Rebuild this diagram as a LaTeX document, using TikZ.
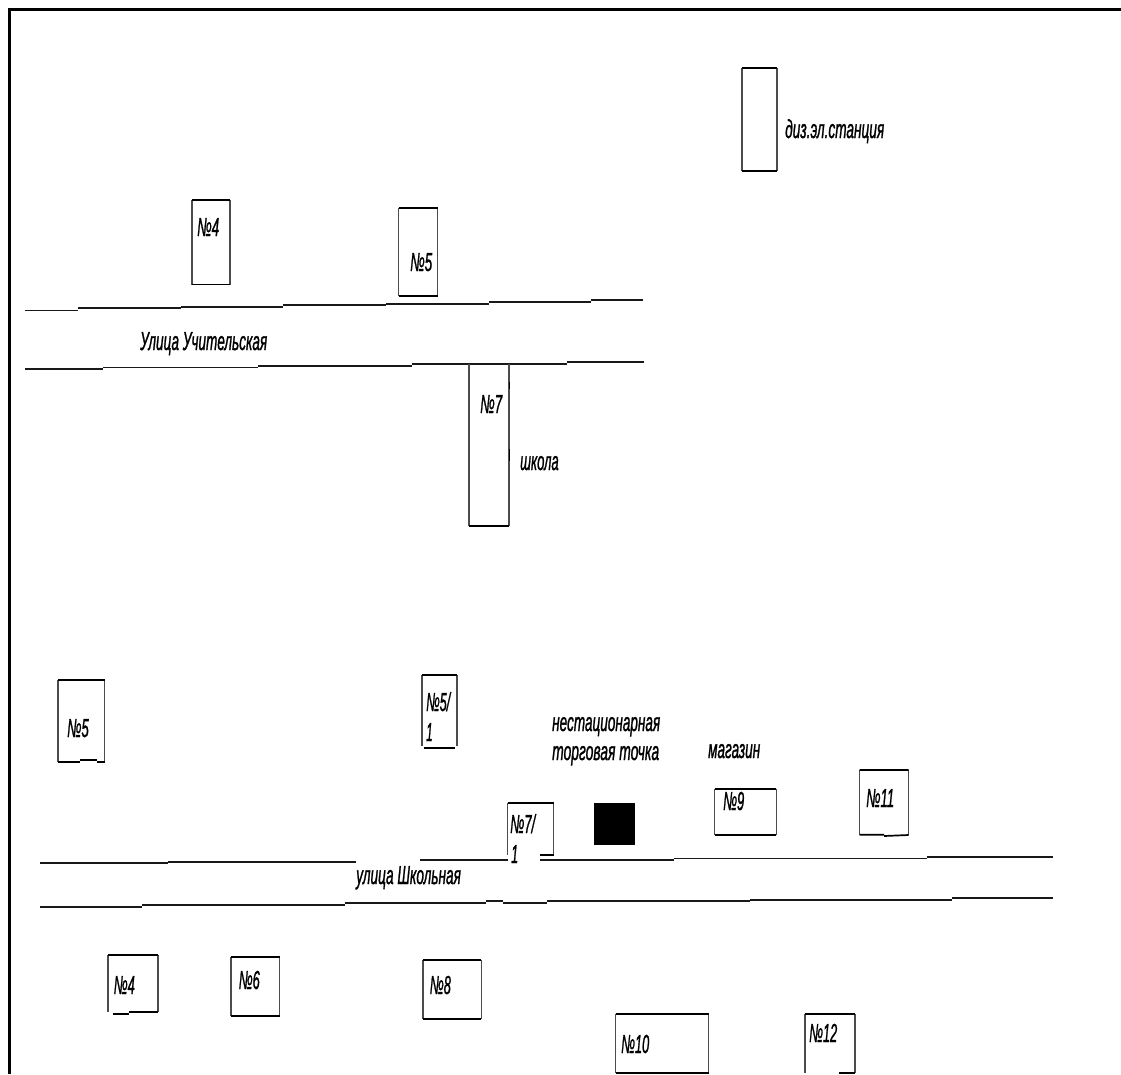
\documentclass[tikz,border=0pt]{standalone}
\usepackage{graphicx}
\usepackage{fontspec}
\setmainfont[ItalicFeatures={FakeBold=1.6}]{Liberation Sans}
\tikzset{
  hline/.style={draw=black,line width=1.7pt},
  vline/.style={draw=black!70,line width=1.1pt},
  frameline/.style={draw=black,line width=3pt},
  roadline/.style={draw=black!90,line width=1.6pt},
  lbl/.style={anchor=base west,inner sep=0pt,yshift=-1pt,font=\fontsize{26}{26}\selectfont\itshape,text=black}
}
% x1 y1 x2 y2
\newcommand{\bldg}[4]{%
  \draw[vline] (#1,#2) -- (#1,#4) (#3,#2) -- (#3,#4);
  \draw[hline] (#1,#2) -- (#3,#2) (#1,#4) -- (#3,#4);}
% name, left x, right x, baseline y, text
\newcommand{\lab}[5]{\node[lbl] (#1) at (#2,#4) {\resizebox{\dimexpr#3pt-#2pt\relax}{\height}{#5}};}
\begin{document}
\begin{tikzpicture}[x=1pt,y=-1pt]
\useasboundingbox (0,0) rectangle (1121,1074);
\fill[white] (0,0) rectangle (1121,1074);
% frame
\draw[frameline] (9,1074) -- (9,9.5) -- (1121,9.5);

% top street
\draw[roadline] (25,310.6) -- (78,310.6) (78,308.2) -- (181,308.2) (181,307) -- (283,307)
  (283,305) -- (386,305) (386,304) -- (489,304) (489,302) -- (591,302) (591,300) -- (643,300);
\draw[roadline] (25,369) -- (103,369) (103,367.4) -- (258,367.4) (258,366) -- (412,366)
  (412,364) -- (567,364) (567,362) -- (644,362);

% bottom street
\draw[roadline] (40,863) -- (168,863) (168,861.7) -- (356,861.7);
\draw[roadline] (420,860) -- (507.5,860);
\draw[roadline] (540,860) -- (673.5,860) (673.5,858.3) -- (926.5,858.3) (926.5,856.7) -- (1053,856.7);
\draw[roadline] (40,906.7) -- (142,906.7) (142,905) -- (344.6,905) (344.6,903) -- (486,903)
  (486,901) -- (503,901) (503,903) -- (547,903) (547,901) -- (749.5,901)
  (749.5,900) -- (951.5,900) (951.5,898) -- (1053,898);

% upper buildings
\bldg{742}{68}{777}{171}
\bldg{192}{200}{230}{284.5}
\bldg{398.6}{208}{437.7}{296}
% school, open at the street
\draw[vline] (469,364) -- (469,526) (509,364) -- (509,526);
\draw[hline] (469,526) -- (509,526);
\draw[draw=black,line width=1.5pt] (509.3,382) -- (509.3,389) (509.3,449) -- (509.3,461);

% lower buildings
\draw[vline] (58,680) -- (58,761.7) (104.6,680) -- (104.6,761.7);
\draw[hline] (58,680) -- (104.6,680) (58,761.7) -- (80,761.7) (80,760) -- (97,760) (97,761.7) -- (104.6,761.7);
\draw[vline] (422,675) -- (422,746) (457,675) -- (457,746);
\draw[hline] (422,675) -- (457,675) (424,747.7) -- (455,747.7);
\draw[vline] (507.5,803) -- (507.5,855) (553.6,803) -- (553.6,855);
\draw[hline] (507.5,803) -- (553.6,803) (540,855) -- (553.6,855);
\fill[black] (594,802.7) rectangle (634.6,845);
\bldg{714.6}{789}{776.4}{834.7}
\draw[vline] (859.6,770) -- (859.6,834.7) (908.7,770) -- (908.7,834.7);
\draw[hline] (859.6,770) -- (908.7,770) (859.6,834.7) -- (884,834.7) (884,836) -- (908.7,835);
\draw[vline] (108,955) -- (108,1012) (158,955) -- (158,1012);
\draw[hline] (108,955) -- (158,955) (113,1014) -- (129,1014) (129,1012) -- (158,1012);
\bldg{231}{956.7}{279.6}{1016}
\bldg{423}{960}{481.4}{1019}
\bldg{615.6}{1013.7}{708.7}{1073}
\draw[vline] (805,1013.7) -- (805,1073) (855,1013.7) -- (855,1073);
\draw[hline] (805,1013.7) -- (855,1013.7) (839,1073) -- (855,1073);

% labels
\lab{tDiz}{785}{884}{137}{диз.эл.станция}
\lab{tFour}{197}{219}{235}{№4}
\lab{tFive}{410}{432}{270}{№5}
\lab{tStreetA}{140}{267}{349}{Улица Учительская}
\lab{tSeven}{480}{502}{412}{№7}
\lab{tSchool}{520}{558.5}{469}{школа}
\lab{tFiveB}{67}{88.6}{736}{№5}
\lab{tFiveOneA}{426}{450}{710}{№5/}
\lab{tFiveOneB}{426}{432.5}{740}{1}
\lab{tSevenOneA}{510}{535}{832}{№7/}
\lab{tSevenOneB}{511}{518}{862}{1}
\lab{tKiosk}{552}{660}{730}{нестационарная}
\lab{tKioskB}{552}{659}{759}{торговая точка}
\lab{tShop}{708}{760}{757}{магазин}
\lab{tNine}{723}{744}{809}{№9}
\lab{tEleven}{866}{894}{806}{№11}
\lab{tStreetB}{356}{460.7}{883}{улица Школьная}
\lab{tFourB}{113.6}{134.6}{993}{№4}
\lab{tSix}{238.6}{259.6}{988}{№6}
\lab{tEight}{429.6}{450.7}{993}{№8}
\lab{tTen}{621}{649}{1052}{№10}
\lab{tTwelve}{809}{837}{1041}{№12}
\end{tikzpicture}
\end{document}
